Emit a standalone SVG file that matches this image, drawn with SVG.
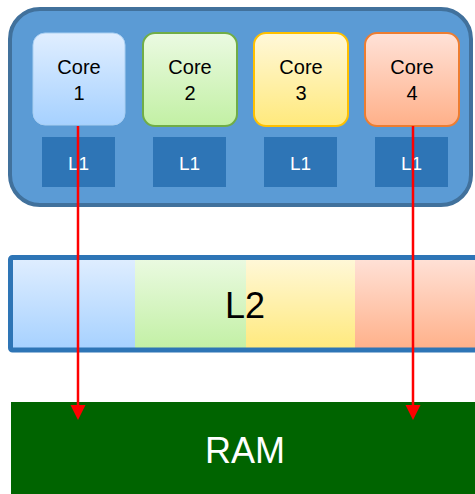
<svg xmlns="http://www.w3.org/2000/svg" width="475" height="494" viewBox="0 0 475 494">
<defs>
<linearGradient id="gB" x1="0" y1="0" x2="0" y2="1"><stop offset="0" stop-color="#e0eeff"/><stop offset="1" stop-color="#a6d1ff"/></linearGradient>
<linearGradient id="gG" x1="0" y1="0" x2="0" y2="1"><stop offset="0" stop-color="#ebfae2"/><stop offset="1" stop-color="#c2f0a4"/></linearGradient>
<linearGradient id="gY" x1="0" y1="0" x2="0" y2="1"><stop offset="0" stop-color="#fff8da"/><stop offset="1" stop-color="#ffe97c"/></linearGradient>
<linearGradient id="gO" x1="0" y1="0" x2="0" y2="1"><stop offset="0" stop-color="#ffe2d8"/><stop offset="1" stop-color="#ffb089"/></linearGradient>
<style>
.core{stroke-width:2}
.ct{font-family:"Liberation Sans",Arial,sans-serif;font-size:20px;fill:#000;text-anchor:middle}
.l1{fill:#2e75b6}
.l1t{font-family:"Liberation Sans",Arial,sans-serif;font-size:19px;fill:#fff;text-anchor:middle}
.big{font-family:"Liberation Sans",Arial,sans-serif;font-size:36px;text-anchor:middle}
.wire{stroke:#ff0000;stroke-width:2.5;fill:none}
.head{fill:#ff0000}
</style>
</defs>
<g id="cpu">
<rect x="10" y="9" width="461" height="196" rx="30" fill="#5b9bd5" stroke="#41719c" stroke-width="4"/>
</g>
<g id="core1">
<rect x="33" y="33" width="92" height="92" rx="12" fill="url(#gB)" stroke="#a9cff2" stroke-width="1"/>
<text class="ct" x="79" y="73.5">Core</text><text class="ct" x="79" y="99.5">1</text>
</g>
<g id="core2">
<rect class="core" x="143" y="33" width="94" height="93" rx="12" fill="url(#gG)" stroke="#70ad47"/>
<text class="ct" x="190" y="73.5">Core</text><text class="ct" x="190" y="99.5">2</text>
</g>
<g id="core3">
<rect class="core" x="254" y="33" width="94" height="93" rx="12" fill="url(#gY)" stroke="#ffc000"/>
<text class="ct" x="301" y="73.5">Core</text><text class="ct" x="301" y="99.5">3</text>
</g>
<g id="core4">
<rect class="core" x="365" y="33" width="94" height="93" rx="12" fill="url(#gO)" stroke="#ed7d31"/>
<text class="ct" x="412" y="73.5">Core</text><text class="ct" x="412" y="99.5">4</text>
</g>
<g id="l1_1"><rect class="l1" x="42" y="137" width="73" height="50"/><text class="l1t" x="78.5" y="170">L1</text></g>
<g id="l1_2"><rect class="l1" x="153" y="137" width="73" height="50"/><text class="l1t" x="189.5" y="170">L1</text></g>
<g id="l1_3"><rect class="l1" x="264" y="137" width="73" height="50"/><text class="l1t" x="300.5" y="170">L1</text></g>
<g id="l1_4"><rect class="l1" x="375" y="137" width="73" height="50"/><text class="l1t" x="411.5" y="170">L1</text></g>
<g id="l2">
<rect x="10" y="257" width="125" height="93" fill="url(#gB)"/>
<rect x="135" y="257" width="111" height="93" fill="url(#gG)"/>
<rect x="246" y="257" width="109" height="93" fill="url(#gY)"/>
<rect x="355" y="257" width="125" height="93" fill="url(#gO)"/>
<rect x="10.5" y="257.5" width="475" height="92.5" fill="none" stroke="#2e75b6" stroke-width="5" rx="2"/>
<text class="big" x="245" y="318" fill="#000">L2</text>
</g>
<g id="ram">
<rect x="11" y="402" width="470" height="95" fill="#006400"/>
<text class="big" x="245" y="463" fill="#fff">RAM</text>
</g>
<g id="connectors">
<line class="wire" x1="78" y1="126" x2="78" y2="406"/>
<path class="head" d="M70.5,405 L85.5,405 L78,420 Z"/>
<line class="wire" x1="413" y1="126" x2="413" y2="406"/>
<path class="head" d="M405.5,405 L420.5,405 L413,420 Z"/>
</g>
</svg>
